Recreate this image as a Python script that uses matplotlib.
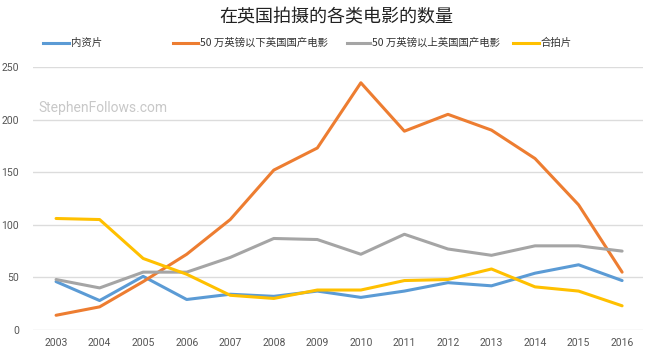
import matplotlib
matplotlib.use("Agg")
import matplotlib.pyplot as plt
from matplotlib.lines import Line2D

plt.rcParams['font.family'] = ['Noto Sans CJK SC', 'DejaVu Sans']

# ---------------------------------------------------------------------------
# Data
# ---------------------------------------------------------------------------
years = [2003, 2004, 2005, 2006, 2007, 2008, 2009, 2010, 2011, 2012, 2013, 2014, 2015, 2016]

domestic = [46, 28, 51, 29, 34, 32, 37, 31, 37, 45, 42, 54, 62, 47]
uk_under_500k = [14, 22, 46, 72, 105, 152, 173, 235, 189, 205, 190, 163, 119, 55]
uk_over_500k = [48, 40, 55, 55, 69, 87, 86, 72, 91, 77, 71, 80, 80, 75]
coproductions = [106, 105, 68, 53, 33, 30, 38, 38, 47, 48, 58, 41, 37, 23]

series_names = ['内资片', '50 万英镑以下英国国产电影', '50 万英镑以上英国国产电影', '合拍片']
series_values = [domestic, uk_under_500k, uk_over_500k, coproductions]
colors = ['#5B9BD5', '#ED7D31', '#A5A5A5', '#FFC000']

title = '在英国拍摄的各类电影的数量'
y_ticks = [0, 50, 100, 150, 200, 250]

# ---------------------------------------------------------------------------
# Plot
# ---------------------------------------------------------------------------
fig = plt.figure(figsize=(6.55, 3.55), dpi=100)
ax = fig.add_axes([33 / 655, 25 / 355, 610 / 655, 263 / 355])

for vals, col in zip(series_values, colors):
    ax.plot(years, vals, color=col, linewidth=2.2, solid_capstyle='round')

ax.set_xlim(2002.47, 2016.48)
ax.set_ylim(0, 250)
ax.set_xticks(years)
ax.set_yticks(y_ticks)
ax.grid(axis='y', color='#dcdcdc', linewidth=1)
ax.set_axisbelow(True)
for s in ax.spines.values():
    s.set_visible(False)
ax.tick_params(length=0, colors='#555555', labelsize=7.5, pad=6)
for lbl in ax.get_xticklabels() + ax.get_yticklabels():
    lbl.set_fontfamily(['Roboto', 'DejaVu Sans'])
ax.tick_params(axis='y', pad=10)

# watermark
fig.text(38 / 655, 1 - 108 / 355, 'StephenFollows.com', color='#c8c8c8', fontsize=10,
         family=['Roboto', 'DejaVu Sans'], va='center', ha='left')

# title
fig.text(336 / 655, 1 - 17 / 355, title, ha='center', va='center', fontsize=13, color='#222222')

# legend drawn manually to match the uneven spacing of the original
legend_line_x = [(43, 69), (173, 198), (347, 370), (513, 539)]
legend_y = 1 - 43 / 355
for (x0, x1), name, col in zip(legend_line_x, series_names, colors):
    fig.add_artist(Line2D([x0 / 655, x1 / 655], [legend_y, legend_y], color=col,
                          linewidth=2.2, transform=fig.transFigure))
    fig.text((x1 + 2) / 655, legend_y, name, ha='left', va='center', fontsize=7.5,
             color='#333333')

fig.savefig('out.png', dpi=100)
